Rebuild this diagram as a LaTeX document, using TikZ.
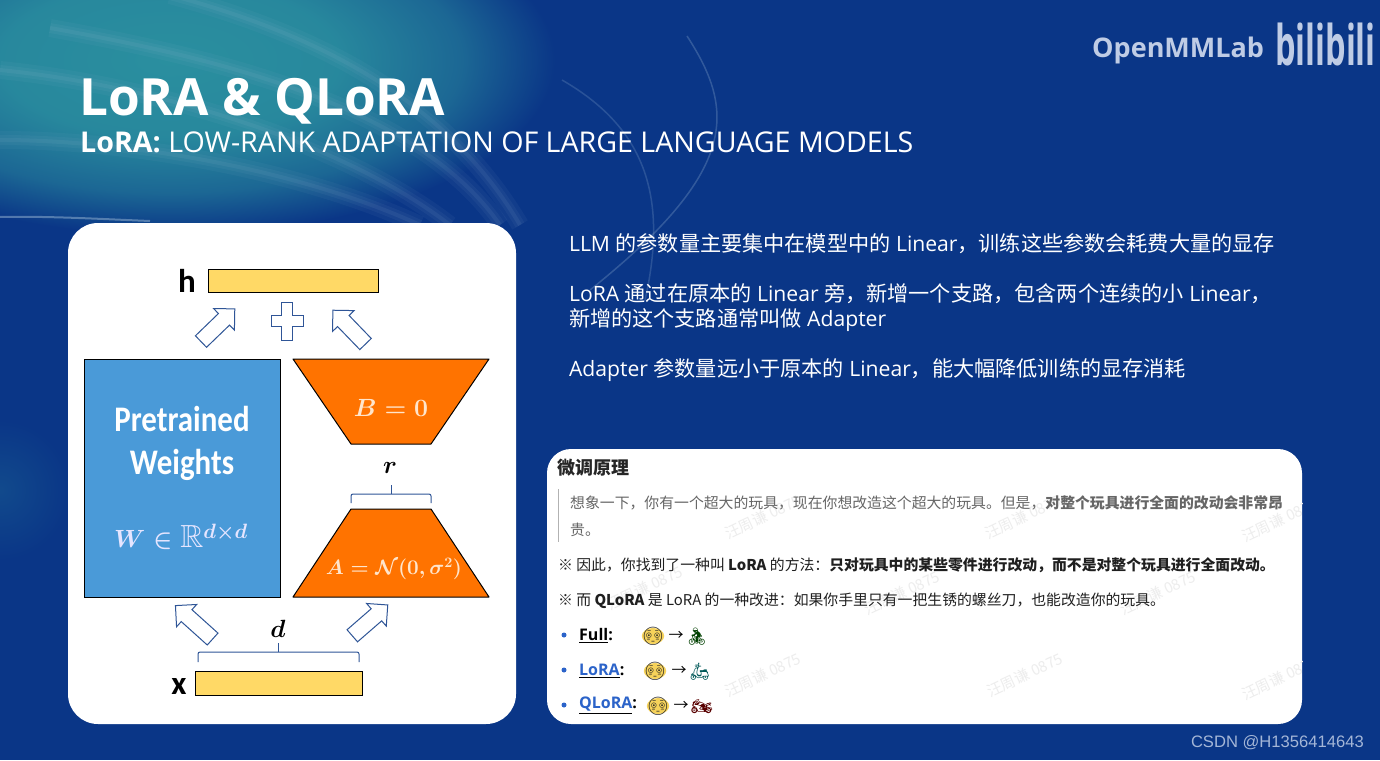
\documentclass[tikz,border=0pt]{standalone}
\usepackage{amssymb}
\usepackage{fontspec}
\setmainfont{Open Sans}
\newfontfamily\cjk{Noto Sans CJK SC}
\newfontfamily\carlito{Carlito}
\newfontfamily\emojifont{Noto Emoji}
\newfontfamily\csdnfont{Liberation Sans}
\usetikzlibrary{shapes.arrows,shapes.geometric}
\newcommand{\fs}[1]{\fontsize{#1}{#1}\selectfont}
\newcommand{\zh}[1]{{\cjk #1}}
\definecolor{basecol}{HTML}{0A3687}
\definecolor{glowcol}{HTML}{2A8F9F}
\definecolor{bandcol}{HTML}{A9C4DC}
\definecolor{logocol}{HTML}{BFCCE5}
\definecolor{arrowcol}{HTML}{2F5597}
\definecolor{barcol}{HTML}{FFD966}
\definecolor{orangecol}{HTML}{FF7300}
\definecolor{weightcol}{HTML}{4A9AD8}
\definecolor{linkcol}{HTML}{2B63C9}
\definecolor{facecol}{HTML}{F6D25A}
\pgfdeclareradialshading{glowball}{\pgfpoint{0bp}{0bp}}{color(0bp)=(glowcol);
  color(11bp)=(glowcol!92!basecol); color(19bp)=(glowcol!55!basecol); color(25bp)=(basecol); color(50bp)=(basecol)}
\tikzset{
  blockarrow/.style={single arrow, draw=arrowcol, fill=white, line width=1pt, inner sep=0pt,
    single arrow head extend=7pt, single arrow head indent=0pt},
  databar/.style={draw=black, fill=barcol, line width=1pt},
  brace/.style={draw=arrowcol, line width=1pt, rounded corners=2pt},
  trapez/.style={draw=black, fill=orangecol, line width=1pt, line join=round},
  lined/.style={anchor=west, text=white, font=\fs{21.15}},
  panel/.style={anchor=west, text=black!88, font=\cjk\fs{14.85}},
  facenode/.style={ellipse, fill=facecol, inner sep=-3.5pt,
    text=black!85, font=\emojifont\fs{18}},
  ridenode/.style={inner sep=0pt, font=\emojifont\fs{17}},
  dotnode/.style={circle, fill=linkcol, inner sep=0pt, minimum size=5pt},
  markwater/.style={rotate=25, text=black!7, font=\cjk\fs{15}}
}
\begin{document}
\begin{tikzpicture}[x=1pt, y=-1pt]
\useasboundingbox (0,0) rectangle (1380,760);
\clip (0,0) rectangle (1380,760);

\fill[basecol] (0,0) rectangle (1380,760);
\shade[shading=glowball] (170,60) ellipse (385 and 175);
\shade[inner color=glowcol!22!basecol, outer color=basecol] (0,490) ellipse (70 and 70);

\begin{scope}[bandcol]
\foreach \w/\o in {18/.05, 10/.06, 4/.08} {
  \draw[line width=\w pt, opacity=\o] (170,-5) .. controls (300,30) and (440,90) .. (520,225);
  \draw[line width=\w pt, opacity=\o] (50,28) .. controls (230,60) and (420,110) .. (500,225);
  \draw[line width=\w pt, opacity=\o] (0,70) .. controls (150,85) and (340,140) .. (450,225);
  \draw[line width=\w pt, opacity=\o] (0,140) .. controls (130,140) and (300,170) .. (420,225);
}
\draw[line width=2pt, opacity=.45] (0,217) .. controls (50,216) and (100,219) .. (150,221);
\draw[line width=1.5pt, opacity=.25] (687,36) .. controls (735,110) and (740,170) .. (590,290);
\draw[line width=1.5pt, opacity=.2] (562,80) .. controls (640,125) and (670,190) .. (645,300);
\end{scope}

\node[anchor=base west, text=white, inner sep=0pt, font=\bfseries\fs{51.3}] (title) at (79,115) {LoRA \& QLoRA};
\node[anchor=base west, text=white, inner sep=0pt, font=\fs{28.6}] (subtitle) at (80,152) {\textbf{LoRA:} LOW-RANK ADAPTATION OF LARGE LANGUAGE MODELS};

\node[anchor=west, inner sep=0pt, text=logocol, font=\bfseries\fs{27}] (openmm) at (1092,50) {OpenMMLab};
\node[anchor=west, inner sep=0pt, text=logocol, font=\bfseries\fs{56}] (bili) at (1275,44) {\scalebox{.58}[1]{bilibili}};
\node[anchor=east, inner sep=0pt, text=logocol!85!basecol, font=\csdnfont\fs{16.6}] (csdn) at (1364,743) {CSDN @H1356414643};

\fill[white, rounded corners=30pt] (68,223) rectangle (516,724);

\draw[databar] (208,269) rectangle (378,292);
\node[font=\carlito\bfseries\fs{33}] (hlabel) at (187,281) {h};
\draw[databar] (195,671) rectangle (362,695);
\node[font=\carlito\bfseries\fs{33}] (xlabel) at (179,686) {x};

\draw[draw=black, fill=weightcol, line width=1pt] (84,359) rectangle (280,597);
\node[text=white, font=\carlito\bfseries\fs{36}] (pretrained) at (182,419) {\scalebox{.86}[1]{Pretrained}};
\node[text=white, font=\carlito\bfseries\fs{36}] (weights) at (182,465) {\scalebox{.86}[1]{Weights}};
\node[text=blue!10, font=\fs{32}\boldmath] (wmath) at (181,537) {$W \in \mathbb{R}^{d\times d}$};

\draw[trapez] (293,359) -- (489,359) -- (431,444) -- (351,444) -- cycle;
\node[text=orange!20, font=\fs{23}\boldmath] (bmath) at (391,408) {$B=0$};
\draw[trapez] (351,509) -- (431,509) -- (489,597) -- (293,597) -- cycle;
\node[text=orange!20, font=\fs{22}\boldmath] (amath) at (394,569) {$A=\mathcal{N}(0,\sigma^2)$};

\node[font=\fs{25}\boldmath] (rlabel) at (390,468) {$r$};
\draw[brace] (351,503) -- (351,494) -- (431,494) -- (431,503);
\draw[draw=arrowcol, line width=1pt] (391,494) -- (391,485);
\node[font=\fs{25}\boldmath] (dlabel) at (278,629) {$d$};
\draw[brace] (198,662) -- (198,652) -- (359,652) -- (359,662);
\draw[draw=arrowcol, line width=1pt] (278,652) -- (278,643);

\node[blockarrow, minimum height=47pt, rotate=44] (liftw) at (215,328) {\rule{0pt}{15pt}};
\node[blockarrow, minimum height=47pt, rotate=134] (liftb) at (352,330) {\rule{0pt}{15pt}};
\node[blockarrow, minimum height=50pt, rotate=138] (feedw) at (197,625) {\rule{0pt}{15pt}};
\node[blockarrow, minimum height=47pt, rotate=41] (feeda) at (367,623) {\rule{0pt}{15pt}};

\coordinate (plus) at (287,321);
\draw[draw=arrowcol, fill=white, line width=1pt] (plus) ++(-5.5,-19) -- ++(11,0) -- ++(0,13.5) -- ++(10.5,0) -- ++(0,11)
  -- ++(-10.5,0) -- ++(0,13.5) -- ++(-11,0) -- ++(0,-13.5) -- ++(-10.5,0) -- ++(0,-11) -- ++(10.5,0) -- cycle;

\node[lined] (line1) at (565.5,244) {LLM \zh{的参数量主要集中在模型中的} Linear\zh{，训练这些参数会耗费大量的显存}};
\node[lined] (line2) at (565.5,294) {LoRA \zh{通过在原本的} Linear \zh{旁，新增一个支路，包含两个连续的小} Linear\zh{，}};
\node[lined] (line3) at (565.5,320) {\zh{新增的这个支路通常叫做} Adapter};
\node[lined] (line4) at (565.5,370) {Adapter \zh{参数量远小于原本的} Linear\zh{，能大幅降低训练的显存消耗}};

\fill[white, rounded corners=24pt] (547,449) rectangle (1302,724);
\begin{scope}
\clip[rounded corners=24pt] (547,449) rectangle (1302,724);
\foreach \px/\py in {763/517, 1023/517, 1280/520, 645/588, 902/593, 1158/593, 763/675, 1025/675, 1280/678}
  \node[markwater] at (\px,\py) {汪周谦 0875};
\end{scope}

\node[anchor=west, inner sep=0pt, text=black!85, font=\cjk\bfseries\fs{18}] (heading) at (557,468) {微调原理};
\draw[black!30, line width=1pt] (558,489) -- (558,542);
\node[panel, inner sep=0pt, text=black!60] (quote1) at (570,503) {想象一下，你有一个超大的玩具，现在你想改造这个超大的玩具。但是，\textbf{对整个玩具进行全面的改动会非常昂}};
\node[panel, inner sep=0pt, text=black!60] (quote2) at (570,530) {贵。};
\node[panel, inner sep=0pt] (note1) at (558,565) {※ 因此，你找到了一种叫 \textbf{LoRA} 的方法：\textbf{只对玩具中的某些零件进行改动，而不是对整个玩具进行全面改动。}};
\node[panel, inner sep=0pt] (note2) at (558,601) {※ 而 \textbf{QLoRA} 是 LoRA 的一种改进：如果你手里只有一把生锈的螺丝刀，也能改造你的玩具。};

\node[dotnode] (dot1) at (564,635) {};
\node[dotnode] (dot2) at (564,670) {};
\node[dotnode] (dot3) at (564,705) {};
\node[anchor=west, inner sep=0pt, font=\bfseries\fs{16}] (full) at (579,636) {\underline{Full}:};
\node[anchor=west, inner sep=0pt, font=\bfseries\fs{16}] (lora) at (579,671) {\underline{\textcolor{linkcol}{LoRA}}:};
\node[anchor=west, inner sep=0pt, font=\bfseries\fs{16}] (qlora) at (579,706) {\underline{\textcolor{linkcol}{QLoRA}}:};

\node[facenode] (face1) at (653,636) {😳};
\node[facenode] (face2) at (655,671) {😳};
\node[facenode] (face3) at (658,706) {😳};
\node[inner sep=0pt, font=\cjk\fs{15}] (to1) at (676,636) {→};
\node[inner sep=0pt, font=\cjk\fs{15}] (to2) at (679,671) {→};
\node[inner sep=0pt, font=\cjk\fs{15}] (to3) at (681,706) {→};
\node[ridenode, text=green!25!black] (ride1) at (697,637) {🚴};
\node[ridenode, text=teal!70!black] (ride2) at (700,672) {🛵};
\node[ridenode, text=red!35!black] (ride3) at (702,707) {🏍};

\end{tikzpicture}
\end{document}
